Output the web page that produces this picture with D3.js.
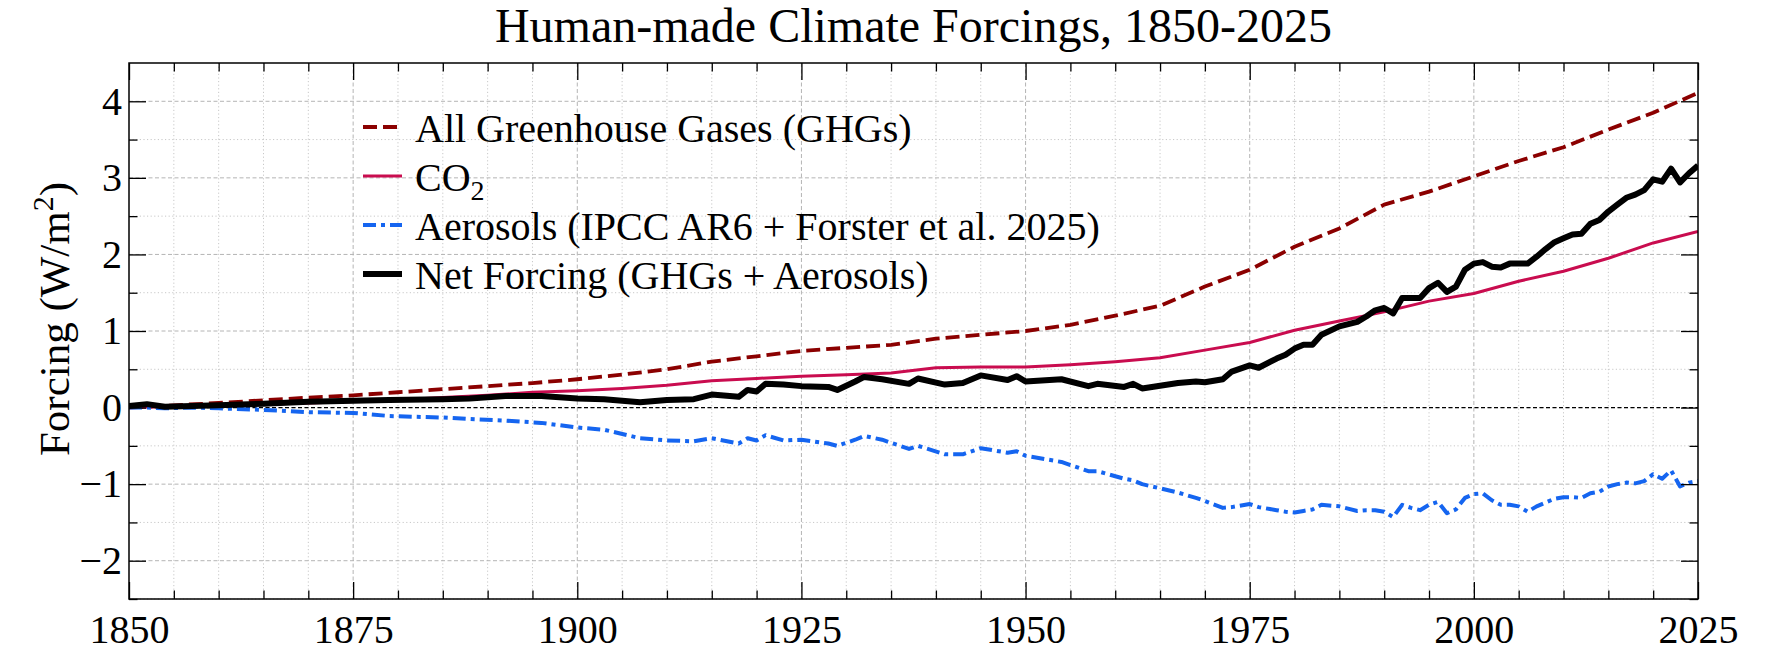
<!DOCTYPE html>
<html>
<head>
<meta charset="utf-8">
<script src="https://cdn.jsdelivr.net/npm/d3@7/dist/d3.min.js"></script>
<style>
  body { margin: 0; background: #fff; }
  svg { display: block; }
</style>
</head>
<body>
<div id="chart"></div>
<script>
// smooth series, read every 5-10 years
var smoothYears = [1850, 1860, 1870, 1875, 1880, 1885, 1890, 1895, 1900, 1905, 1910, 1915, 1920, 1925,
  1930, 1935, 1940, 1945, 1950, 1955, 1960, 1965, 1970, 1975, 1980, 1985, 1990, 1995, 2000, 2005,
  2010, 2015, 2020, 2025];
var ghg = [0.00, 0.06, 0.13, 0.16, 0.20, 0.24, 0.28, 0.32, 0.37, 0.43, 0.50, 0.60, 0.67, 0.74,
  0.78, 0.82, 0.90, 0.95, 1.00, 1.08, 1.20, 1.33, 1.58, 1.80, 2.10, 2.34, 2.65, 2.82, 3.02, 3.22,
  3.40, 3.63, 3.85, 4.11];
var co2 = [0.00, 0.03, 0.06, 0.08, 0.10, 0.13, 0.16, 0.20, 0.22, 0.25, 0.29, 0.35, 0.38, 0.41,
  0.43, 0.45, 0.52, 0.53, 0.53, 0.56, 0.60, 0.65, 0.75, 0.85, 1.01, 1.13, 1.25, 1.39, 1.49, 1.65,
  1.78, 1.95, 2.15, 2.30];

// noisy series
var years = [1850, 1852, 1854, 1857, 1860, 1865, 1870, 1875, 1879, 1885,
  1888, 1892, 1896, 1900, 1903, 1907, 1910, 1913, 1915, 1918,
  1919, 1920, 1921, 1923, 1925, 1928, 1929, 1931, 1932, 1934,
  1937, 1938, 1941, 1943, 1945, 1948, 1949, 1950, 1954, 1957,
  1958, 1961, 1962, 1963, 1967, 1969, 1970, 1972, 1973, 1975,
  1976, 1978, 1979, 1980, 1981, 1982, 1983, 1985, 1987, 1988,
  1989, 1990, 1991, 1992, 1993, 1994, 1995, 1996, 1997, 1998,
  1999, 2000, 2001, 2002, 2003, 2004, 2005, 2006, 2007, 2008,
  2009, 2010, 2011, 2012, 2013, 2014, 2015, 2016, 2017, 2018,
  2019, 2020, 2021, 2022, 2023, 2024, 2025];
var net = [0.02, 0.045, 0.01, 0.02, 0.03, 0.05, 0.075, 0.09, 0.10, 0.11,
  0.12, 0.15, 0.15, 0.12, 0.11, 0.07, 0.10, 0.11, 0.17, 0.14,
  0.23, 0.21, 0.31, 0.30, 0.28, 0.27, 0.23, 0.34, 0.40, 0.37,
  0.31, 0.38, 0.30, 0.32, 0.42, 0.36, 0.41, 0.34, 0.37, 0.28,
  0.31, 0.27, 0.31, 0.25, 0.32, 0.34, 0.33, 0.37, 0.47, 0.55,
  0.52, 0.64, 0.69, 0.77, 0.82, 0.82, 0.95, 1.06, 1.12, 1.19,
  1.27, 1.30, 1.23, 1.43, 1.43, 1.43, 1.56, 1.63, 1.51, 1.58,
  1.80, 1.88, 1.90, 1.84, 1.83, 1.88, 1.88, 1.88, 1.97, 2.07,
  2.16, 2.21, 2.26, 2.27, 2.40, 2.45, 2.56, 2.65, 2.74, 2.78,
  2.84, 2.98, 2.95, 3.12, 2.94, 3.06, 3.16];
var aerosols = [0, 0, -0.01, 0, -0.01, -0.03, -0.06, -0.07, -0.11, -0.13,
  -0.15, -0.17, -0.20, -0.26, -0.29, -0.40, -0.43, -0.44, -0.40, -0.47,
  -0.40, -0.43, -0.36, -0.43, -0.42, -0.47, -0.50, -0.42, -0.37, -0.42,
  -0.54, -0.50, -0.61, -0.61, -0.53, -0.59, -0.57, -0.63, -0.71, -0.83,
  -0.83, -0.93, -0.95, -1.00, -1.11, -1.18, -1.22, -1.31, -1.30, -1.26,
  -1.30, -1.34, -1.36, -1.37, -1.35, -1.33, -1.27, -1.29, -1.35, -1.34,
  -1.34, -1.36, -1.43, -1.27, -1.31, -1.34, -1.27, -1.23, -1.38, -1.33,
  -1.18, -1.13, -1.12, -1.21, -1.27, -1.27, -1.29, -1.36, -1.29, -1.24,
  -1.19, -1.17, -1.17, -1.18, -1.12, -1.10, -1.03, -1.00, -0.98, -0.99,
  -0.96, -0.87, -0.93, -0.82, -1.03, -0.98, -0.96];

var xMajor = [1850, 1875, 1900, 1925, 1950, 1975, 2000, 2025];
var yMajor = [-2, -1, 0, 1, 2, 3, 4];

var W = 1778, H = 667;
var m = {top: 63, right: 80, bottom: 68, left: 129};
var w = W - m.left - m.right, h = H - m.top - m.bottom;
var font = "'Liberation Serif', 'DejaVu Serif', 'Times New Roman', serif";

var svg = d3.select("#chart").append("svg")
  .attr("width", W)
  .attr("height", H)
  .style("font-family", font);

var g = svg.append("g").attr("transform", "translate(" + m.left + "," + m.top + ")");

var x = d3.scaleLinear().domain([1850, 2025]).range([0, w]);
var y = d3.scaleLinear().domain([-2.5, 4.5]).range([h, 0]);

var xMinor = d3.range(1855, 2025, 5).filter(function (d) { return xMajor.indexOf(d) < 0; });
var yMinor = d3.range(-2.5, 4.5, 0.5).filter(function (d) { return d % 1 !== 0; });

// grid
var grid = g.append("g");
grid.selectAll("line.xminor").data(xMinor).enter().append("line")
  .attr("x1", function (d) { return x(d); }).attr("x2", function (d) { return x(d); })
  .attr("y1", 0).attr("y2", h)
  .attr("stroke", "#c8c8c8").attr("stroke-width", 1).attr("stroke-dasharray", "1.2,2.4");
grid.selectAll("line.yminor").data(yMinor).enter().append("line")
  .attr("x1", 0).attr("x2", w)
  .attr("y1", function (d) { return y(d); }).attr("y2", function (d) { return y(d); })
  .attr("stroke", "#c8c8c8").attr("stroke-width", 1).attr("stroke-dasharray", "1.2,2.4");
grid.selectAll("line.xmajor").data(xMajor.slice(1, -1)).enter().append("line")
  .attr("x1", function (d) { return x(d); }).attr("x2", function (d) { return x(d); })
  .attr("y1", 0).attr("y2", h)
  .attr("stroke", "#b4b4b4").attr("stroke-width", 1).attr("stroke-dasharray", "4,2.5");
grid.selectAll("line.ymajor").data(yMajor).enter().append("line")
  .attr("x1", 0).attr("x2", w)
  .attr("y1", function (d) { return y(d); }).attr("y2", function (d) { return y(d); })
  .attr("stroke", "#b4b4b4").attr("stroke-width", 1).attr("stroke-dasharray", "4,2.5");

// zero line
g.append("line")
  .attr("x1", 0).attr("x2", w).attr("y1", y(0)).attr("y2", y(0))
  .attr("stroke", "#000").attr("stroke-width", 1.3).attr("stroke-dasharray", "4,2.5");

g.append("clipPath").attr("id", "clip").append("rect")
  .attr("width", w).attr("height", h);

var line = d3.line()
  .x(function (d) { return x(d[0]); })
  .y(function (d) { return y(d[1]); });

var series = [
  {name: "All Greenhouse Gases (GHGs)", xs: smoothYears, ys: ghg, color: "#8b0000", width: 3.8, dash: "14,6"},
  {name: "CO2", xs: smoothYears, ys: co2, color: "#c90c4f", width: 3, dash: null},
  {name: "Aerosols (IPCC AR6 + Forster et al. 2025)", xs: years, ys: aerosols, color: "#1565f0", width: 4, dash: "13,5,4,5"},
  {name: "Net Forcing (GHGs + Aerosols)", xs: years, ys: net, color: "#000", width: 6, dash: null}
];

var lines = g.append("g").attr("clip-path", "url(#clip)");
series.forEach(function (s) {
  lines.append("path")
    .datum(d3.zip(s.xs, s.ys))
    .attr("d", line)
    .attr("fill", "none")
    .attr("stroke", s.color)
    .attr("stroke-width", s.width)
    .attr("stroke-linejoin", "round")
    .attr("stroke-dasharray", s.dash);
});

// axes with inward ticks on all four sides
function style(ax) {
  ax.select(".domain").remove();
  ax.selectAll(".tick line").attr("stroke", "#000").attr("stroke-width", 1.3);
  ax.selectAll("text").attr("font-family", font).attr("font-size", 40).attr("fill", "#000");
}
style(g.append("g").attr("transform", "translate(0," + h + ")")
  .call(d3.axisBottom(x).tickValues(xMajor).tickFormat(d3.format("d")).tickSize(-17).tickSizeOuter(0).tickPadding(16)));
style(g.append("g").attr("transform", "translate(0," + h + ")")
  .call(d3.axisBottom(x).tickValues(xMinor).tickFormat("").tickSize(-8.5).tickSizeOuter(0)));
style(g.append("g")
  .call(d3.axisTop(x).tickValues(xMajor).tickFormat("").tickSize(-17).tickSizeOuter(0)));
style(g.append("g")
  .call(d3.axisTop(x).tickValues(xMinor).tickFormat("").tickSize(-8.5).tickSizeOuter(0)));
style(g.append("g")
  .call(d3.axisLeft(y).tickValues(yMajor).tickFormat(d3.format("d")).tickSize(-17).tickSizeOuter(0).tickPadding(7)));
style(g.append("g")
  .call(d3.axisLeft(y).tickValues(yMinor).tickFormat("").tickSize(-8.5).tickSizeOuter(0)));
style(g.append("g").attr("transform", "translate(" + w + ",0)")
  .call(d3.axisRight(y).tickValues(yMajor).tickFormat("").tickSize(-17).tickSizeOuter(0)));
style(g.append("g").attr("transform", "translate(" + w + ",0)")
  .call(d3.axisRight(y).tickValues(yMinor).tickFormat("").tickSize(-8.5).tickSizeOuter(0)));

// frame
g.append("rect")
  .attr("width", w).attr("height", h)
  .attr("fill", "none").attr("stroke", "#000").attr("stroke-width", 1.5);

// title
svg.append("text")
  .attr("x", m.left + w / 2)
  .attr("y", 42)
  .attr("text-anchor", "middle")
  .attr("font-size", 48)
  .text("Human-made Climate Forcings, 1850-2025");

// y label
var yl = svg.append("text")
  .attr("transform", "translate(69," + (m.top + h / 2 - 12) + ")rotate(-90)")
  .attr("text-anchor", "middle")
  .attr("font-size", 43);
yl.append("tspan").text("Forcing (W/m");
yl.append("tspan").attr("dy", -16).attr("font-size", 30).text("2");
yl.append("tspan").attr("dy", 16).text(")");

// legend
var legend = svg.append("g").attr("transform", "translate(363,127)");
series.forEach(function (s, i) {
  var row = legend.append("g").attr("transform", "translate(0," + (i * 49) + ")");
  row.append("line")
    .attr("x1", 0).attr("x2", 39).attr("y1", 0).attr("y2", 0)
    .attr("stroke", s.color)
    .attr("stroke-width", s.width)
    .attr("stroke-dasharray", s.dash);
  var t = row.append("text").attr("x", 52).attr("y", 15).attr("font-size", 40);
  if (s.name === "CO2") {
    t.append("tspan").text("CO");
    t.append("tspan").attr("dy", 9).attr("font-size", 28).text("2");
  } else {
    t.text(s.name);
  }
});
</script>
</body>
</html>
